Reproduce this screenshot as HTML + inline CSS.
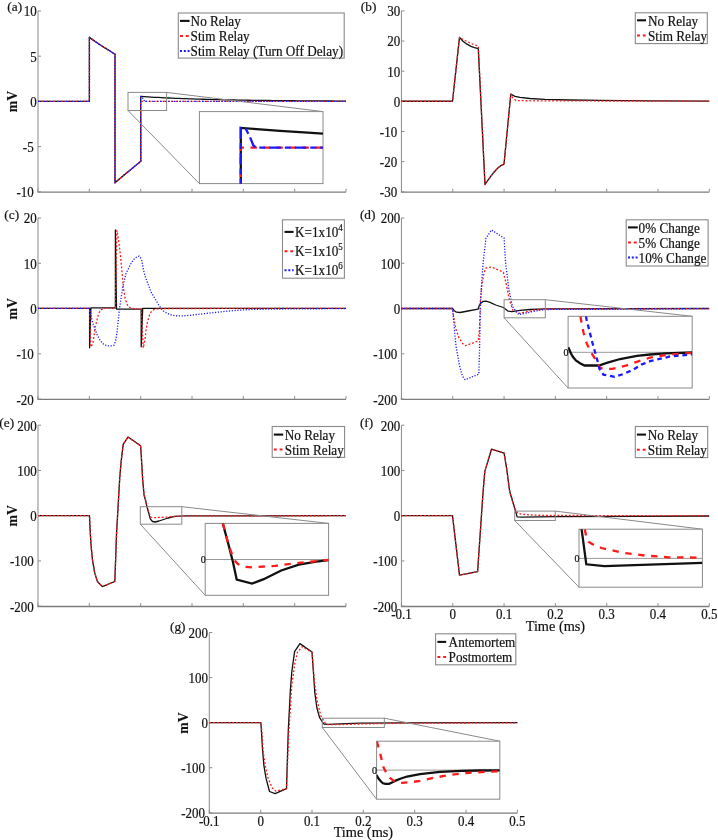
<!DOCTYPE html>
<html><head><meta charset="utf-8"><style>html,body{margin:0;padding:0;background:#fff;width:718px;height:840px;overflow:hidden}</style></head><body>
<svg width="718" height="840" viewBox="0 0 718 840" style="display:block;filter:blur(0.3px)">
<style>text{font-family:"Liberation Serif",serif;stroke:#1a1a1a;stroke-width:0.2px;paint-order:stroke;fill:#111}</style>
<rect width="718" height="840" fill="#fff"/>
<line x1="38.00" y1="11.00" x2="38.00" y2="191.80" stroke="#8e8e8e" stroke-width="1.05"/>
<line x1="37.40" y1="192.10" x2="346.00" y2="192.10" stroke="#7c7c7c" stroke-width="1.3"/>
<line x1="38.00" y1="11.00" x2="41.00" y2="11.00" stroke="#8c8c8c" stroke-width="1"/>
<text transform="translate(36.80,16.40) scale(1,1.110)" font-size="13" text-anchor="end">10</text>
<line x1="38.00" y1="56.20" x2="41.00" y2="56.20" stroke="#8c8c8c" stroke-width="1"/>
<text transform="translate(36.80,61.60) scale(1,1.110)" font-size="13" text-anchor="end">5</text>
<line x1="38.00" y1="101.40" x2="41.00" y2="101.40" stroke="#8c8c8c" stroke-width="1"/>
<text transform="translate(36.80,106.80) scale(1,1.110)" font-size="13" text-anchor="end">0</text>
<line x1="38.00" y1="146.60" x2="41.00" y2="146.60" stroke="#8c8c8c" stroke-width="1"/>
<text transform="translate(33.70,152.00) scale(1,1.110)" font-size="13" text-anchor="end">-5</text>
<line x1="38.00" y1="191.80" x2="41.00" y2="191.80" stroke="#8c8c8c" stroke-width="1"/>
<text transform="translate(33.70,197.20) scale(1,1.110)" font-size="13" text-anchor="end">-10</text>
<line x1="38.00" y1="191.80" x2="38.00" y2="188.80" stroke="#8c8c8c" stroke-width="1"/>
<line x1="89.33" y1="191.80" x2="89.33" y2="188.80" stroke="#8c8c8c" stroke-width="1"/>
<line x1="140.67" y1="191.80" x2="140.67" y2="188.80" stroke="#8c8c8c" stroke-width="1"/>
<line x1="192.00" y1="191.80" x2="192.00" y2="188.80" stroke="#8c8c8c" stroke-width="1"/>
<line x1="243.33" y1="191.80" x2="243.33" y2="188.80" stroke="#8c8c8c" stroke-width="1"/>
<line x1="294.67" y1="191.80" x2="294.67" y2="188.80" stroke="#8c8c8c" stroke-width="1"/>
<line x1="346.00" y1="191.80" x2="346.00" y2="188.80" stroke="#8c8c8c" stroke-width="1"/>
<text transform="translate(7.30,10.60) scale(1,1.000)" font-size="13.3">(a)</text>
<text transform="translate(16.70,101.50) rotate(-90)" text-anchor="middle" font-size="13.8" font-weight="bold" style="stroke-width:0.1px">mV</text>
<line x1="401.45" y1="10.90" x2="401.45" y2="191.80" stroke="#8e8e8e" stroke-width="1.05"/>
<line x1="400.85" y1="192.10" x2="709.30" y2="192.10" stroke="#7c7c7c" stroke-width="1.3"/>
<line x1="401.45" y1="10.90" x2="404.45" y2="10.90" stroke="#8c8c8c" stroke-width="1"/>
<text transform="translate(400.25,16.30) scale(1,1.110)" font-size="13" text-anchor="end">30</text>
<line x1="401.45" y1="41.05" x2="404.45" y2="41.05" stroke="#8c8c8c" stroke-width="1"/>
<text transform="translate(400.25,46.45) scale(1,1.110)" font-size="13" text-anchor="end">20</text>
<line x1="401.45" y1="71.20" x2="404.45" y2="71.20" stroke="#8c8c8c" stroke-width="1"/>
<text transform="translate(400.25,76.60) scale(1,1.110)" font-size="13" text-anchor="end">10</text>
<line x1="401.45" y1="101.35" x2="404.45" y2="101.35" stroke="#8c8c8c" stroke-width="1"/>
<text transform="translate(400.25,106.75) scale(1,1.110)" font-size="13" text-anchor="end">0</text>
<line x1="401.45" y1="131.50" x2="404.45" y2="131.50" stroke="#8c8c8c" stroke-width="1"/>
<text transform="translate(397.15,136.90) scale(1,1.110)" font-size="13" text-anchor="end">-10</text>
<line x1="401.45" y1="161.65" x2="404.45" y2="161.65" stroke="#8c8c8c" stroke-width="1"/>
<text transform="translate(397.15,167.05) scale(1,1.110)" font-size="13" text-anchor="end">-20</text>
<line x1="401.45" y1="191.80" x2="404.45" y2="191.80" stroke="#8c8c8c" stroke-width="1"/>
<text transform="translate(397.15,197.20) scale(1,1.110)" font-size="13" text-anchor="end">-30</text>
<line x1="401.45" y1="191.80" x2="401.45" y2="188.80" stroke="#8c8c8c" stroke-width="1"/>
<line x1="452.76" y1="191.80" x2="452.76" y2="188.80" stroke="#8c8c8c" stroke-width="1"/>
<line x1="504.07" y1="191.80" x2="504.07" y2="188.80" stroke="#8c8c8c" stroke-width="1"/>
<line x1="555.38" y1="191.80" x2="555.38" y2="188.80" stroke="#8c8c8c" stroke-width="1"/>
<line x1="606.68" y1="191.80" x2="606.68" y2="188.80" stroke="#8c8c8c" stroke-width="1"/>
<line x1="657.99" y1="191.80" x2="657.99" y2="188.80" stroke="#8c8c8c" stroke-width="1"/>
<line x1="709.30" y1="191.80" x2="709.30" y2="188.80" stroke="#8c8c8c" stroke-width="1"/>
<text transform="translate(360.80,10.80) scale(1,1.000)" font-size="13.3">(b)</text>
<line x1="38.00" y1="218.00" x2="38.00" y2="399.10" stroke="#8e8e8e" stroke-width="1.05"/>
<line x1="37.40" y1="399.40" x2="346.00" y2="399.40" stroke="#7c7c7c" stroke-width="1.3"/>
<line x1="38.00" y1="218.00" x2="41.00" y2="218.00" stroke="#8c8c8c" stroke-width="1"/>
<text transform="translate(36.80,223.40) scale(1,1.110)" font-size="13" text-anchor="end">20</text>
<line x1="38.00" y1="263.27" x2="41.00" y2="263.27" stroke="#8c8c8c" stroke-width="1"/>
<text transform="translate(36.80,268.67) scale(1,1.110)" font-size="13" text-anchor="end">10</text>
<line x1="38.00" y1="308.55" x2="41.00" y2="308.55" stroke="#8c8c8c" stroke-width="1"/>
<text transform="translate(36.80,313.95) scale(1,1.110)" font-size="13" text-anchor="end">0</text>
<line x1="38.00" y1="353.83" x2="41.00" y2="353.83" stroke="#8c8c8c" stroke-width="1"/>
<text transform="translate(33.70,359.23) scale(1,1.110)" font-size="13" text-anchor="end">-10</text>
<line x1="38.00" y1="399.10" x2="41.00" y2="399.10" stroke="#8c8c8c" stroke-width="1"/>
<text transform="translate(33.70,404.50) scale(1,1.110)" font-size="13" text-anchor="end">-20</text>
<line x1="38.00" y1="399.10" x2="38.00" y2="396.10" stroke="#8c8c8c" stroke-width="1"/>
<line x1="89.33" y1="399.10" x2="89.33" y2="396.10" stroke="#8c8c8c" stroke-width="1"/>
<line x1="140.67" y1="399.10" x2="140.67" y2="396.10" stroke="#8c8c8c" stroke-width="1"/>
<line x1="192.00" y1="399.10" x2="192.00" y2="396.10" stroke="#8c8c8c" stroke-width="1"/>
<line x1="243.33" y1="399.10" x2="243.33" y2="396.10" stroke="#8c8c8c" stroke-width="1"/>
<line x1="294.67" y1="399.10" x2="294.67" y2="396.10" stroke="#8c8c8c" stroke-width="1"/>
<line x1="346.00" y1="399.10" x2="346.00" y2="396.10" stroke="#8c8c8c" stroke-width="1"/>
<text transform="translate(4.30,219.40) scale(1,1.000)" font-size="13.3">(c)</text>
<text transform="translate(16.70,308.80) rotate(-90)" text-anchor="middle" font-size="13.8" font-weight="bold" style="stroke-width:0.1px">mV</text>
<line x1="401.45" y1="218.00" x2="401.45" y2="399.10" stroke="#8e8e8e" stroke-width="1.05"/>
<line x1="400.85" y1="399.40" x2="709.30" y2="399.40" stroke="#7c7c7c" stroke-width="1.3"/>
<line x1="401.45" y1="218.00" x2="404.45" y2="218.00" stroke="#8c8c8c" stroke-width="1"/>
<text transform="translate(400.25,223.40) scale(1,1.110)" font-size="13" text-anchor="end">200</text>
<line x1="401.45" y1="263.27" x2="404.45" y2="263.27" stroke="#8c8c8c" stroke-width="1"/>
<text transform="translate(400.25,268.67) scale(1,1.110)" font-size="13" text-anchor="end">100</text>
<line x1="401.45" y1="308.55" x2="404.45" y2="308.55" stroke="#8c8c8c" stroke-width="1"/>
<text transform="translate(400.25,313.95) scale(1,1.110)" font-size="13" text-anchor="end">0</text>
<line x1="401.45" y1="353.83" x2="404.45" y2="353.83" stroke="#8c8c8c" stroke-width="1"/>
<text transform="translate(397.15,359.23) scale(1,1.110)" font-size="13" text-anchor="end">-100</text>
<line x1="401.45" y1="399.10" x2="404.45" y2="399.10" stroke="#8c8c8c" stroke-width="1"/>
<text transform="translate(397.15,404.50) scale(1,1.110)" font-size="13" text-anchor="end">-200</text>
<line x1="401.45" y1="399.10" x2="401.45" y2="396.10" stroke="#8c8c8c" stroke-width="1"/>
<line x1="452.76" y1="399.10" x2="452.76" y2="396.10" stroke="#8c8c8c" stroke-width="1"/>
<line x1="504.07" y1="399.10" x2="504.07" y2="396.10" stroke="#8c8c8c" stroke-width="1"/>
<line x1="555.38" y1="399.10" x2="555.38" y2="396.10" stroke="#8c8c8c" stroke-width="1"/>
<line x1="606.68" y1="399.10" x2="606.68" y2="396.10" stroke="#8c8c8c" stroke-width="1"/>
<line x1="657.99" y1="399.10" x2="657.99" y2="396.10" stroke="#8c8c8c" stroke-width="1"/>
<line x1="709.30" y1="399.10" x2="709.30" y2="396.10" stroke="#8c8c8c" stroke-width="1"/>
<text transform="translate(359.90,219.40) scale(1,1.000)" font-size="13.3">(d)</text>
<line x1="38.00" y1="425.20" x2="38.00" y2="606.20" stroke="#8e8e8e" stroke-width="1.05"/>
<line x1="37.40" y1="606.50" x2="346.00" y2="606.50" stroke="#7c7c7c" stroke-width="1.3"/>
<line x1="38.00" y1="425.20" x2="41.00" y2="425.20" stroke="#8c8c8c" stroke-width="1"/>
<text transform="translate(36.80,430.60) scale(1,1.110)" font-size="13" text-anchor="end">200</text>
<line x1="38.00" y1="470.45" x2="41.00" y2="470.45" stroke="#8c8c8c" stroke-width="1"/>
<text transform="translate(36.80,475.85) scale(1,1.110)" font-size="13" text-anchor="end">100</text>
<line x1="38.00" y1="515.70" x2="41.00" y2="515.70" stroke="#8c8c8c" stroke-width="1"/>
<text transform="translate(36.80,521.10) scale(1,1.110)" font-size="13" text-anchor="end">0</text>
<line x1="38.00" y1="560.95" x2="41.00" y2="560.95" stroke="#8c8c8c" stroke-width="1"/>
<text transform="translate(33.70,566.35) scale(1,1.110)" font-size="13" text-anchor="end">-100</text>
<line x1="38.00" y1="606.20" x2="41.00" y2="606.20" stroke="#8c8c8c" stroke-width="1"/>
<text transform="translate(33.70,611.60) scale(1,1.110)" font-size="13" text-anchor="end">-200</text>
<line x1="38.00" y1="606.20" x2="38.00" y2="603.20" stroke="#8c8c8c" stroke-width="1"/>
<line x1="89.33" y1="606.20" x2="89.33" y2="603.20" stroke="#8c8c8c" stroke-width="1"/>
<line x1="140.67" y1="606.20" x2="140.67" y2="603.20" stroke="#8c8c8c" stroke-width="1"/>
<line x1="192.00" y1="606.20" x2="192.00" y2="603.20" stroke="#8c8c8c" stroke-width="1"/>
<line x1="243.33" y1="606.20" x2="243.33" y2="603.20" stroke="#8c8c8c" stroke-width="1"/>
<line x1="294.67" y1="606.20" x2="294.67" y2="603.20" stroke="#8c8c8c" stroke-width="1"/>
<line x1="346.00" y1="606.20" x2="346.00" y2="603.20" stroke="#8c8c8c" stroke-width="1"/>
<text transform="translate(-0.70,427.30) scale(1,1.000)" font-size="13.3">(e)</text>
<text transform="translate(16.70,515.80) rotate(-90)" text-anchor="middle" font-size="13.8" font-weight="bold" style="stroke-width:0.1px">mV</text>
<line x1="401.45" y1="425.20" x2="401.45" y2="606.20" stroke="#8e8e8e" stroke-width="1.05"/>
<line x1="400.85" y1="606.50" x2="709.30" y2="606.50" stroke="#7c7c7c" stroke-width="1.3"/>
<line x1="401.45" y1="425.20" x2="404.45" y2="425.20" stroke="#8c8c8c" stroke-width="1"/>
<text transform="translate(400.25,430.60) scale(1,1.110)" font-size="13" text-anchor="end">200</text>
<line x1="401.45" y1="470.45" x2="404.45" y2="470.45" stroke="#8c8c8c" stroke-width="1"/>
<text transform="translate(400.25,475.85) scale(1,1.110)" font-size="13" text-anchor="end">100</text>
<line x1="401.45" y1="515.70" x2="404.45" y2="515.70" stroke="#8c8c8c" stroke-width="1"/>
<text transform="translate(400.25,521.10) scale(1,1.110)" font-size="13" text-anchor="end">0</text>
<line x1="401.45" y1="560.95" x2="404.45" y2="560.95" stroke="#8c8c8c" stroke-width="1"/>
<text transform="translate(397.15,566.35) scale(1,1.110)" font-size="13" text-anchor="end">-100</text>
<line x1="401.45" y1="606.20" x2="404.45" y2="606.20" stroke="#8c8c8c" stroke-width="1"/>
<text transform="translate(397.15,611.60) scale(1,1.110)" font-size="13" text-anchor="end">-200</text>
<line x1="401.45" y1="606.20" x2="401.45" y2="603.20" stroke="#8c8c8c" stroke-width="1"/>
<text transform="translate(401.45,619.20) scale(1,1.110)" font-size="13" text-anchor="middle">-0.1</text>
<line x1="452.76" y1="606.20" x2="452.76" y2="603.20" stroke="#8c8c8c" stroke-width="1"/>
<text transform="translate(452.76,619.20) scale(1,1.110)" font-size="13" text-anchor="middle">0</text>
<line x1="504.07" y1="606.20" x2="504.07" y2="603.20" stroke="#8c8c8c" stroke-width="1"/>
<text transform="translate(504.07,619.20) scale(1,1.110)" font-size="13" text-anchor="middle">0.1</text>
<line x1="555.38" y1="606.20" x2="555.38" y2="603.20" stroke="#8c8c8c" stroke-width="1"/>
<text transform="translate(555.38,619.20) scale(1,1.110)" font-size="13" text-anchor="middle">0.2</text>
<line x1="606.68" y1="606.20" x2="606.68" y2="603.20" stroke="#8c8c8c" stroke-width="1"/>
<text transform="translate(606.68,619.20) scale(1,1.110)" font-size="13" text-anchor="middle">0.3</text>
<line x1="657.99" y1="606.20" x2="657.99" y2="603.20" stroke="#8c8c8c" stroke-width="1"/>
<text transform="translate(657.99,619.20) scale(1,1.110)" font-size="13" text-anchor="middle">0.4</text>
<line x1="709.30" y1="606.20" x2="709.30" y2="603.20" stroke="#8c8c8c" stroke-width="1"/>
<text transform="translate(709.30,619.20) scale(1,1.110)" font-size="13" text-anchor="middle">0.5</text>
<text transform="translate(555.38,630.60) scale(1,1.000)" font-size="14.3" text-anchor="middle">Time (ms)</text>
<text transform="translate(359.90,427.30) scale(1,1.000)" font-size="13.3">(f)</text>
<line x1="209.30" y1="632.50" x2="209.30" y2="812.80" stroke="#8e8e8e" stroke-width="1.05"/>
<line x1="208.70" y1="813.10" x2="517.40" y2="813.10" stroke="#7c7c7c" stroke-width="1.3"/>
<line x1="209.30" y1="632.50" x2="212.30" y2="632.50" stroke="#8c8c8c" stroke-width="1"/>
<text transform="translate(208.10,637.90) scale(1,1.110)" font-size="13" text-anchor="end">200</text>
<line x1="209.30" y1="677.58" x2="212.30" y2="677.58" stroke="#8c8c8c" stroke-width="1"/>
<text transform="translate(208.10,682.98) scale(1,1.110)" font-size="13" text-anchor="end">100</text>
<line x1="209.30" y1="722.65" x2="212.30" y2="722.65" stroke="#8c8c8c" stroke-width="1"/>
<text transform="translate(208.10,728.05) scale(1,1.110)" font-size="13" text-anchor="end">0</text>
<line x1="209.30" y1="767.72" x2="212.30" y2="767.72" stroke="#8c8c8c" stroke-width="1"/>
<text transform="translate(205.00,773.12) scale(1,1.110)" font-size="13" text-anchor="end">-100</text>
<line x1="209.30" y1="812.80" x2="212.30" y2="812.80" stroke="#8c8c8c" stroke-width="1"/>
<text transform="translate(205.00,818.20) scale(1,1.110)" font-size="13" text-anchor="end">-200</text>
<line x1="209.30" y1="812.80" x2="209.30" y2="809.80" stroke="#8c8c8c" stroke-width="1"/>
<text transform="translate(209.30,825.80) scale(1,1.110)" font-size="13" text-anchor="middle">-0.1</text>
<line x1="260.65" y1="812.80" x2="260.65" y2="809.80" stroke="#8c8c8c" stroke-width="1"/>
<text transform="translate(260.65,825.80) scale(1,1.110)" font-size="13" text-anchor="middle">0</text>
<line x1="312.00" y1="812.80" x2="312.00" y2="809.80" stroke="#8c8c8c" stroke-width="1"/>
<text transform="translate(312.00,825.80) scale(1,1.110)" font-size="13" text-anchor="middle">0.1</text>
<line x1="363.35" y1="812.80" x2="363.35" y2="809.80" stroke="#8c8c8c" stroke-width="1"/>
<text transform="translate(363.35,825.80) scale(1,1.110)" font-size="13" text-anchor="middle">0.2</text>
<line x1="414.70" y1="812.80" x2="414.70" y2="809.80" stroke="#8c8c8c" stroke-width="1"/>
<text transform="translate(414.70,825.80) scale(1,1.110)" font-size="13" text-anchor="middle">0.3</text>
<line x1="466.05" y1="812.80" x2="466.05" y2="809.80" stroke="#8c8c8c" stroke-width="1"/>
<text transform="translate(466.05,825.80) scale(1,1.110)" font-size="13" text-anchor="middle">0.4</text>
<line x1="517.40" y1="812.80" x2="517.40" y2="809.80" stroke="#8c8c8c" stroke-width="1"/>
<text transform="translate(517.40,825.80) scale(1,1.110)" font-size="13" text-anchor="middle">0.5</text>
<text transform="translate(363.35,837.20) scale(1,1.000)" font-size="14.3" text-anchor="middle">Time (ms)</text>
<text transform="translate(170.00,631.10) scale(1,1.000)" font-size="13.3">(g)</text>
<text transform="translate(188.00,723.00) rotate(-90)" text-anchor="middle" font-size="13.8" font-weight="bold" style="stroke-width:0.1px">mV</text>
<polyline points="38.00,101.40 89.40,101.40 89.40,37.40 95.00,41.40 100.00,44.80 105.00,47.90 110.00,51.00 115.00,54.30 115.00,182.80 120.00,178.40 125.00,174.20 130.00,170.20 135.00,166.10 140.80,161.20 140.70,96.40 144.18,96.66 147.66,96.87 151.14,97.08 154.62,97.28 158.10,97.47 161.58,97.65 165.06,97.82 168.54,97.98 172.02,98.14 175.50,98.29 178.98,98.43 182.46,98.56 185.94,98.69 189.42,98.82 192.89,98.94 196.37,99.05 199.85,99.16 203.33,99.26 206.81,99.36 210.29,99.45 213.77,99.54 217.25,99.62 220.73,99.70 224.21,99.78 227.69,99.86 231.17,99.93 234.65,99.99 238.13,100.06 241.61,100.12 245.09,100.18 248.57,100.23 252.05,100.29 255.53,100.34 259.01,100.39 262.49,100.43 265.97,100.48 269.45,100.52 272.93,100.56 276.41,100.60 279.89,100.63 283.37,100.67 286.85,100.70 290.33,100.73 293.81,100.76 297.28,100.79 300.76,100.82 304.24,100.85 307.72,100.87 311.20,100.90 314.68,100.92 318.16,100.94 321.64,100.96 325.12,100.98 328.60,101.00 332.08,101.02 335.56,101.04 339.04,101.05 342.52,101.07 346.00,101.08" fill="none" stroke="#111" stroke-width="1.30" stroke-linejoin="round"/>
<polyline points="38.00,101.40 89.40,101.40 89.40,37.40 95.00,41.40 100.00,44.80 105.00,47.90 110.00,51.00 115.00,54.30 115.00,182.80 120.00,178.40 125.00,174.20 130.00,170.20 135.00,166.10 140.80,161.20 140.70,101.40 346.00,101.40" fill="none" stroke="#ff1a1a" stroke-width="1.30" stroke-dasharray="1.9 1.9" stroke-linejoin="round"/>
<polyline points="38.00,101.40 89.40,101.40 89.40,37.40 95.00,41.40 100.00,44.80 105.00,47.90 110.00,51.00 115.00,54.30 115.00,182.80 120.00,178.40 125.00,174.20 130.00,170.20 135.00,166.10 140.80,161.20 140.70,96.40 141.30,96.60 142.50,97.80 143.80,99.80 144.80,101.40 346.00,101.40" fill="none" stroke="#1a1aff" stroke-width="1.30" stroke-dasharray="1.2 1.6" stroke-linejoin="round"/>
<defs><clipPath id="ia"><rect x="199.40" y="111.60" width="123.60" height="72.00"/></clipPath></defs>
<rect x="128.00" y="92.40" width="38.60" height="18.10" fill="none" stroke="#8a8a8a" stroke-width="1"/>
<line x1="166.60" y1="92.40" x2="323.00" y2="111.60" stroke="#8a8a8a" stroke-width="1"/>
<line x1="128.00" y1="110.50" x2="199.40" y2="183.60" stroke="#8a8a8a" stroke-width="1"/>
<rect x="199.40" y="111.60" width="123.60" height="72.00" fill="#fff" stroke="#8a8a8a" stroke-width="1"/>
<polyline points="240.80,190.00 240.80,127.90 260.00,129.40 280.00,130.80 300.00,132.10 323.00,133.60" fill="none" stroke="#111" stroke-width="2.30" clip-path="url(#ia)"/>
<polyline points="240.80,190.00 240.80,147.70 330.00,147.70" fill="none" stroke="#ff1a1a" stroke-width="2.30" stroke-dasharray="6.4 6.6" clip-path="url(#ia)"/>
<polyline points="240.80,190.00 240.80,127.90 246.00,129.30 249.80,136.60 253.40,145.50 256.00,147.70 330.00,147.70" fill="none" stroke="#1a1aff" stroke-width="2.30" stroke-dasharray="11.5 4 6 4" clip-path="url(#ia)"/>
<rect x="178.30" y="13.00" width="165.90" height="45.10" fill="#fff" stroke="#8a8a8a" stroke-width="1.1"/>
<line x1="180.00" y1="20.90" x2="189.60" y2="20.90" stroke="#111" stroke-width="2.1"/>
<text transform="translate(190.60,26.20) scale(1,1.110)" font-size="13.2">No Relay</text>
<line x1="180.00" y1="36.10" x2="189.60" y2="36.10" stroke="#ff1a1a" stroke-width="2" stroke-dasharray="2.9 2.9"/>
<text transform="translate(190.60,41.20) scale(1,1.110)" font-size="13.2">Stim Relay</text>
<line x1="180.00" y1="51.10" x2="189.60" y2="51.10" stroke="#1a1aff" stroke-width="2" stroke-dasharray="2 1.8"/>
<text transform="translate(190.60,56.30) scale(1,1.110)" font-size="13.2">Stim Relay (Turn Off Delay)</text>
<polyline points="401.20,101.25 452.50,101.25 459.50,37.40 463.00,41.20 467.00,44.20 471.00,46.30 474.50,47.60 478.30,48.60 485.00,184.50 488.00,180.20 490.90,176.20 494.00,172.20 497.20,168.60 500.50,165.90 504.00,164.20 510.80,94.10 515.00,96.30 520.00,97.40 530.00,98.50 545.00,99.30 570.00,100.00 600.00,100.40 650.00,100.80 709.20,101.10" fill="none" stroke="#111" stroke-width="1.30" stroke-linejoin="round"/>
<polyline points="401.20,101.25 452.50,101.25 459.50,37.40 465.00,40.50 472.00,43.80 478.30,46.20 485.00,184.50 488.00,180.20 490.90,176.20 494.00,172.20 497.20,168.60 500.50,165.90 504.00,164.20 510.80,94.10 512.50,97.50 515.90,100.50 530.00,100.90 709.20,101.10" fill="none" stroke="#ff1a1a" stroke-width="1.30" stroke-dasharray="1.9 1.9" stroke-linejoin="round"/>
<rect x="635.30" y="12.80" width="72.00" height="30.80" fill="#fff" stroke="#8a8a8a" stroke-width="1.1"/>
<line x1="637.00" y1="20.30" x2="646.00" y2="20.30" stroke="#111" stroke-width="2.1"/>
<text transform="translate(648.00,25.60) scale(1,1.110)" font-size="13.2">No Relay</text>
<line x1="637.00" y1="35.50" x2="646.00" y2="35.50" stroke="#ff1a1a" stroke-width="2" stroke-dasharray="2.9 2.9"/>
<text transform="translate(648.00,40.60) scale(1,1.110)" font-size="13.2">Stim Relay</text>
<polyline points="38.00,308.40 89.60,308.40 89.60,347.80 90.90,307.80 115.40,307.80 115.40,230.00 116.50,309.10 141.20,309.10 141.20,346.80 142.70,308.40 346.00,308.40" fill="none" stroke="#111" stroke-width="1.30" stroke-linejoin="round"/>
<polyline points="38.00,308.40 89.60,308.40 90.80,347.00 91.40,346.10 93.00,342.70 94.20,334.60 95.10,327.20 96.10,323.50 97.00,319.80 97.90,316.40 98.80,313.00 101.00,309.90 103.80,308.40 115.40,308.40 116.90,230.40 118.50,240.00 120.40,254.80 122.00,272.00 123.20,286.90 125.00,298.00 127.40,305.00 130.00,307.80 135.00,308.80 141.20,309.00 143.20,348.00 144.30,343.30 145.30,337.10 145.90,330.90 146.80,326.00 147.40,322.30 148.40,318.60 149.60,314.80 151.20,311.80 153.90,309.60 157.60,308.90 165.00,308.50 346.00,308.40" fill="none" stroke="#ff1a1a" stroke-width="1.30" stroke-dasharray="1.9 1.9" stroke-linejoin="round"/>
<polyline points="38.00,308.40 89.60,308.40 90.20,311.00 91.10,315.50 92.00,320.40 93.60,325.40 95.40,330.30 97.30,335.30 100.10,340.20 103.20,343.90 106.90,345.80 112.40,345.80 114.30,345.00 115.80,340.00 117.10,331.80 119.20,310.90 120.90,299.50 122.50,288.50 123.60,283.50 126.00,273.50 128.60,268.30 131.00,263.50 133.50,259.60 135.50,257.90 137.60,256.40 139.30,256.10 140.50,257.50 141.80,260.70 143.60,270.40 145.60,277.70 148.40,285.00 151.20,292.40 155.50,299.50 158.50,304.50 161.10,308.40 163.50,311.00 166.70,313.20 172.30,315.30 177.90,316.00 186.20,315.70 196.00,314.60 205.70,313.50 216.90,312.30 228.00,311.10 239.10,310.20 250.00,309.50 270.00,309.10 292.30,308.90 346.00,308.60" fill="none" stroke="#1a1aff" stroke-width="1.30" stroke-dasharray="1.2 1.6" stroke-linejoin="round"/>
<rect x="282.50" y="219.80" width="61.90" height="58.40" fill="#fff" stroke="#8a8a8a" stroke-width="1.1"/>
<line x1="284.50" y1="231.90" x2="293.60" y2="231.90" stroke="#111" stroke-width="2.1"/>
<text transform="translate(295.00,237.20) scale(1,1.110)" font-size="13.2">K=1x10<tspan font-size="9" dy="-5.4">4</tspan></text>
<line x1="284.50" y1="251.30" x2="293.60" y2="251.30" stroke="#ff1a1a" stroke-width="2" stroke-dasharray="2.9 2.9"/>
<text transform="translate(295.00,256.40) scale(1,1.110)" font-size="13.2">K=1x10<tspan font-size="9" dy="-5.4">5</tspan></text>
<line x1="284.50" y1="270.20" x2="293.60" y2="270.20" stroke="#1a1aff" stroke-width="2" stroke-dasharray="2 1.8"/>
<text transform="translate(295.00,275.40) scale(1,1.110)" font-size="13.2">K=1x10<tspan font-size="9" dy="-5.4">6</tspan></text>
<polyline points="401.20,308.50 452.50,308.50 454.00,310.50 456.40,312.20 460.00,312.50 468.00,311.00 478.00,309.20 479.40,305.20 480.60,303.20 483.20,301.40 486.00,301.20 490.00,302.30 495.70,305.00 503.40,307.50 506.00,309.50 508.20,311.20 512.00,311.60 520.00,310.40 530.00,309.50 545.00,308.80 709.20,308.50" fill="none" stroke="#111" stroke-width="1.30" stroke-linejoin="round"/>
<polyline points="401.20,308.50 452.50,308.50 453.90,318.10 456.00,329.20 458.80,337.60 463.00,343.90 465.50,345.70 478.30,341.00 479.50,327.90 480.40,300.00 481.80,285.50 484.00,273.00 486.00,268.00 491.50,267.10 503.40,272.20 506.20,284.00 509.60,300.80 513.10,310.50 519.40,313.30 526.00,312.00 535.00,310.00 545.00,309.00 709.20,308.60" fill="none" stroke="#ff1a1a" stroke-width="1.30" stroke-dasharray="1.9 1.9" stroke-linejoin="round"/>
<polyline points="401.20,308.50 452.50,308.50 453.90,323.70 456.00,346.00 459.50,365.50 462.30,375.90 465.10,379.70 478.80,374.20 479.40,355.70 480.00,327.90 480.40,307.00 481.50,285.00 483.20,261.80 486.00,238.10 491.50,230.00 504.10,238.10 505.50,261.80 508.90,289.60 512.40,306.40 518.70,314.70 526.00,313.00 535.00,311.00 545.00,309.50 709.20,308.60" fill="none" stroke="#1a1aff" stroke-width="1.30" stroke-dasharray="1.2 1.6" stroke-linejoin="round"/>
<defs><clipPath id="id"><rect x="568.10" y="316.30" width="124.10" height="71.70"/></clipPath></defs>
<rect x="504.10" y="299.70" width="41.20" height="18.10" fill="none" stroke="#8a8a8a" stroke-width="1"/>
<line x1="545.30" y1="299.70" x2="692.20" y2="316.30" stroke="#8a8a8a" stroke-width="1"/>
<line x1="504.10" y1="317.80" x2="568.10" y2="388.00" stroke="#8a8a8a" stroke-width="1"/>
<rect x="568.10" y="316.30" width="124.10" height="71.70" fill="#fff" stroke="#8a8a8a" stroke-width="1"/>
<line x1="568.10" y1="352.30" x2="692.20" y2="352.30" stroke="#999" stroke-width="1"/>
<text transform="translate(568.60,355.80) scale(1,1.110)" font-size="10" text-anchor="end">0</text>
<polyline points="568.30,347.30 569.50,350.00 571.00,353.50 573.00,357.00 575.90,360.50 580.00,363.20 584.50,365.50 599.00,365.50 606.80,362.90 620.10,359.00 636.90,355.90 650.00,354.50 665.00,353.40 692.20,352.50" fill="none" stroke="#111" stroke-width="2.30" clip-path="url(#id)"/>
<polyline points="580.40,316.30 581.10,320.00 583.40,332.30 586.70,343.40 592.30,354.50 596.70,361.20 600.10,367.90 603.40,368.80 612.30,368.80 625.70,365.70 636.90,361.80 650.00,357.70 670.00,354.50 692.20,352.90" fill="none" stroke="#ff1a1a" stroke-width="2.30" stroke-dasharray="6.4 6.6" clip-path="url(#id)"/>
<polyline points="585.90,316.30 586.70,320.00 588.90,328.90 592.30,342.30 595.10,352.30 597.90,362.30 599.50,369.00 603.40,374.60 614.60,376.80 623.50,374.00 632.40,370.10 641.30,364.60 650.00,361.20 670.00,356.50 692.20,354.30" fill="none" stroke="#1a1aff" stroke-width="2.30" stroke-dasharray="4.7 3.8" clip-path="url(#id)"/>
<rect x="626.20" y="219.80" width="81.90" height="46.20" fill="#fff" stroke="#8a8a8a" stroke-width="1.1"/>
<line x1="628.00" y1="227.40" x2="637.80" y2="227.40" stroke="#111" stroke-width="2.1"/>
<text transform="translate(638.60,232.70) scale(1,1.110)" font-size="13.2">0% Change</text>
<line x1="628.00" y1="242.60" x2="637.80" y2="242.60" stroke="#ff1a1a" stroke-width="2" stroke-dasharray="2.9 2.9"/>
<text transform="translate(638.60,247.70) scale(1,1.110)" font-size="13.2">5% Change</text>
<line x1="628.00" y1="257.50" x2="637.80" y2="257.50" stroke="#1a1aff" stroke-width="2" stroke-dasharray="2 1.8"/>
<text transform="translate(638.60,262.70) scale(1,1.110)" font-size="13.2">10% Change</text>
<polyline points="38.00,515.70 89.50,515.70 90.00,527.90 91.10,546.00 92.50,559.90 94.60,572.40 97.40,581.50 102.30,586.60 114.80,581.50 115.50,562.70 116.50,534.80 117.60,515.00 119.70,478.50 121.10,461.80 123.20,444.40 128.00,437.00 140.60,445.80 141.30,456.20 142.70,479.90 144.10,495.20 145.50,500.00 146.90,506.40 148.50,512.00 150.30,518.80 152.50,521.50 155.20,522.00 159.00,521.00 163.60,519.50 168.00,518.00 174.70,516.40 185.00,515.90 346.00,515.70" fill="none" stroke="#111" stroke-width="1.30" stroke-linejoin="round"/>
<polyline points="38.00,515.70 89.50,515.70 90.00,527.90 91.10,546.00 92.50,559.90 94.60,572.40 97.40,581.50 102.30,586.60 114.80,581.50 115.50,562.70 116.50,534.80 117.60,515.00 119.70,478.50 121.10,461.80 123.20,444.40 128.00,437.00 140.60,445.80 141.30,456.20 142.70,479.90 144.10,495.20 145.50,500.00 146.90,506.40 148.50,512.00 151.00,517.40 155.00,517.60 165.00,517.20 175.00,516.50 190.00,515.90 346.00,515.70" fill="none" stroke="#ff1a1a" stroke-width="1.30" stroke-dasharray="1.9 1.9" stroke-linejoin="round"/>
<defs><clipPath id="ie"><rect x="205.20" y="523.40" width="123.40" height="71.90"/></clipPath></defs>
<rect x="140.30" y="506.70" width="41.50" height="17.50" fill="none" stroke="#8a8a8a" stroke-width="1"/>
<line x1="181.80" y1="506.70" x2="328.60" y2="523.40" stroke="#8a8a8a" stroke-width="1"/>
<line x1="140.30" y1="524.20" x2="205.20" y2="595.30" stroke="#8a8a8a" stroke-width="1"/>
<rect x="205.20" y="523.40" width="123.40" height="71.90" fill="#fff" stroke="#8a8a8a" stroke-width="1"/>
<line x1="205.20" y1="559.50" x2="328.60" y2="559.50" stroke="#999" stroke-width="1"/>
<text transform="translate(205.70,563.00) scale(1,1.110)" font-size="10" text-anchor="end">0</text>
<polyline points="222.70,523.00 228.60,545.00 233.00,562.30 236.70,579.60 252.00,583.60 263.70,579.20 281.20,570.50 298.80,564.60 316.30,561.70 328.60,560.20" fill="none" stroke="#111" stroke-width="2.30" clip-path="url(#ie)"/>
<polyline points="222.90,523.40 228.00,543.00 231.50,553.00 233.50,558.00 235.60,561.50 238.00,564.00 240.30,565.60 245.00,566.80 252.00,567.40 275.40,565.80 298.80,562.90 328.60,559.90" fill="none" stroke="#ff1a1a" stroke-width="2.30" stroke-dasharray="6.4 6.6" clip-path="url(#ie)"/>
<rect x="272.20" y="426.50" width="72.40" height="30.90" fill="#fff" stroke="#8a8a8a" stroke-width="1.1"/>
<line x1="273.80" y1="434.60" x2="283.20" y2="434.60" stroke="#111" stroke-width="2.1"/>
<text transform="translate(284.80,439.90) scale(1,1.110)" font-size="13.2">No Relay</text>
<line x1="273.80" y1="449.60" x2="283.20" y2="449.60" stroke="#ff1a1a" stroke-width="2" stroke-dasharray="2.9 2.9"/>
<text transform="translate(284.80,454.70) scale(1,1.110)" font-size="13.2">Stim Relay</text>
<polyline points="401.20,515.70 452.50,515.70 459.50,575.20 477.60,571.70 482.50,500.00 483.50,486.90 484.80,471.50 486.00,467.40 491.50,449.20 504.10,453.10 506.90,470.10 509.60,491.00 512.40,500.80 515.60,511.10 517.10,516.80 523.10,517.10 555.30,516.60 709.20,516.00" fill="none" stroke="#111" stroke-width="1.30" stroke-linejoin="round"/>
<polyline points="401.20,515.70 452.50,515.70 459.50,575.20 477.60,571.70 482.50,500.00 483.50,486.90 484.80,471.50 486.00,467.40 491.50,449.20 504.10,453.10 506.90,470.10 509.60,491.00 512.40,500.80 515.00,509.00 516.50,511.10 517.70,513.30 522.10,514.20 529.00,514.90 545.00,515.50 709.20,515.60" fill="none" stroke="#ff1a1a" stroke-width="1.30" stroke-dasharray="1.9 1.9" stroke-linejoin="round"/>
<defs><clipPath id="if"><rect x="579.00" y="529.20" width="123.40" height="58.00"/></clipPath></defs>
<rect x="514.70" y="511.10" width="40.60" height="9.40" fill="none" stroke="#8a8a8a" stroke-width="1"/>
<line x1="555.30" y1="511.10" x2="702.40" y2="529.20" stroke="#8a8a8a" stroke-width="1"/>
<line x1="514.70" y1="520.50" x2="579.00" y2="587.20" stroke="#8a8a8a" stroke-width="1"/>
<rect x="579.00" y="529.20" width="123.40" height="58.00" fill="#fff" stroke="#8a8a8a" stroke-width="1"/>
<line x1="579.00" y1="558.40" x2="702.40" y2="558.40" stroke="#999" stroke-width="1"/>
<text transform="translate(579.50,561.90) scale(1,1.110)" font-size="10" text-anchor="end">0</text>
<polyline points="580.80,520.00 581.60,529.20 586.30,564.30 604.40,566.10 702.40,562.90" fill="none" stroke="#111" stroke-width="2.30" clip-path="url(#if)"/>
<polyline points="584.80,529.20 586.00,535.50 588.40,541.80 594.00,545.00 601.50,548.00 622.00,552.60 645.40,555.60 668.80,557.30 702.40,557.60" fill="none" stroke="#ff1a1a" stroke-width="2.30" stroke-dasharray="6.4 6.6" clip-path="url(#if)"/>
<rect x="635.30" y="426.50" width="72.40" height="31.10" fill="#fff" stroke="#8a8a8a" stroke-width="1.1"/>
<line x1="636.90" y1="434.60" x2="646.00" y2="434.60" stroke="#111" stroke-width="2.1"/>
<text transform="translate(647.80,439.90) scale(1,1.110)" font-size="13.2">No Relay</text>
<line x1="636.90" y1="449.80" x2="646.00" y2="449.80" stroke="#ff1a1a" stroke-width="2" stroke-dasharray="2.9 2.9"/>
<text transform="translate(647.80,454.90) scale(1,1.110)" font-size="13.2">Stim Relay</text>
<polyline points="209.30,722.70 260.90,722.70 261.40,730.90 262.50,749.00 263.90,765.70 266.00,778.20 269.50,791.50 275.10,793.60 286.50,788.70 287.60,751.80 288.30,730.00 290.40,689.90 291.80,671.80 294.60,651.60 299.90,643.60 312.00,652.00 313.40,671.80 314.80,692.70 316.90,708.00 319.60,717.70 323.80,724.00 328.00,724.40 340.00,723.80 360.00,723.20 400.00,722.90 517.40,722.70" fill="none" stroke="#111" stroke-width="1.30" stroke-linejoin="round"/>
<polyline points="209.30,722.70 260.90,722.70 261.80,730.90 263.20,751.80 265.30,765.70 268.10,778.20 272.30,788.00 275.80,791.10 286.50,788.70 288.30,744.80 289.00,730.00 291.80,685.70 294.60,664.80 297.40,652.30 302.20,646.70 312.00,652.30 314.10,678.70 316.90,699.60 321.00,716.40 325.20,723.00 328.00,724.70 340.00,724.60 360.00,724.00 400.00,723.20 517.40,722.80" fill="none" stroke="#ff1a1a" stroke-width="1.30" stroke-dasharray="1.9 1.9" stroke-linejoin="round"/>
<defs><clipPath id="ig"><rect x="376.60" y="741.20" width="123.20" height="58.00"/></clipPath></defs>
<rect x="322.30" y="718.20" width="62.00" height="9.30" fill="none" stroke="#8a8a8a" stroke-width="1"/>
<line x1="384.30" y1="718.20" x2="499.80" y2="741.20" stroke="#8a8a8a" stroke-width="1"/>
<line x1="322.30" y1="727.50" x2="376.60" y2="799.20" stroke="#8a8a8a" stroke-width="1"/>
<rect x="376.60" y="741.20" width="123.20" height="58.00" fill="#fff" stroke="#8a8a8a" stroke-width="1"/>
<line x1="376.60" y1="770.10" x2="499.80" y2="770.10" stroke="#999" stroke-width="1"/>
<text transform="translate(377.10,773.60) scale(1,1.110)" font-size="10" text-anchor="end">0</text>
<polyline points="376.50,775.00 378.50,778.50 381.00,781.50 383.00,783.30 385.50,783.90 389.00,783.80 392.00,782.50 395.00,780.90 401.00,778.50 407.00,776.50 420.00,774.10 440.00,771.80 461.20,770.90 480.00,770.50 499.80,770.30" fill="none" stroke="#111" stroke-width="2.30" clip-path="url(#ig)"/>
<polyline points="376.80,741.20 379.50,750.70 381.50,759.00 383.00,766.30 386.00,772.10 390.00,778.00 395.00,781.90 402.00,782.80 410.00,782.30 420.00,780.90 435.00,777.50 450.00,775.00 467.10,773.00 485.00,771.80 499.80,771.30" fill="none" stroke="#ff1a1a" stroke-width="2.30" stroke-dasharray="6.4 6.6" clip-path="url(#ig)"/>
<rect x="435.60" y="633.80" width="80.20" height="31.00" fill="#fff" stroke="#8a8a8a" stroke-width="1.1"/>
<line x1="437.40" y1="641.90" x2="446.20" y2="641.90" stroke="#111" stroke-width="2.1"/>
<text transform="translate(448.60,647.20) scale(1,1.110)" font-size="13.2">Antemortem</text>
<line x1="437.40" y1="657.00" x2="446.20" y2="657.00" stroke="#ff1a1a" stroke-width="2" stroke-dasharray="2.9 2.9"/>
<text transform="translate(448.60,662.10) scale(1,1.110)" font-size="13.2">Postmortem</text>
</svg>
</body></html>
